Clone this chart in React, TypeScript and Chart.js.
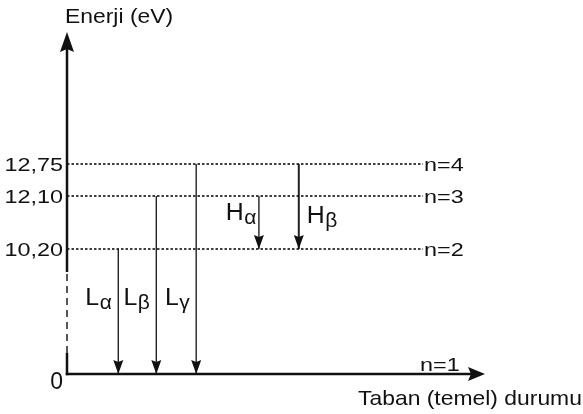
import React, { useEffect, useRef } from 'react';
import { Chart, registerables } from 'chart.js';

Chart.register(...registerables);

// ---------- data ----------
const levelN = [1, 2, 3, 4];
const levelEnergy = [0, 10.2, 12.1, 12.75];
const yTickLabels = ['0', '10,20', '12,10', '12,75'];
const levelLabels = ['n=1', 'n=2', 'n=3', 'n=4'];
// schematic (broken-axis) height at which each level is drawn, diagram units
const levelHeight = [0, 2.5, 3.56, 4.2];

const transitionSeries = ['L', 'L', 'L', 'H', 'H'];
const transitionSub = ['α', 'β', 'γ', 'α', 'β'];
const transitionFrom = [2, 3, 4, 3, 4];
const transitionTo = [1, 1, 1, 2, 2];
const transitionSlot = [1.35, 2.35, 3.4, 5.05, 6.1];

const yAxisTitle = 'Enerji (eV)';
const xAxisTitle = 'Taban (temel) durumu';

// ---------- layout ----------
const X_MAX = 11;
const Y_MAX = 6.84;
const LEVEL_LINE_END = 9.37;
const AXIS_BREAK = [0.42, 2.04];
const labelHeight = [1.38, 1.38, 1.38, 3.08, 3.02];
const labelSide = ['left', 'left', 'left', 'left', 'right'];

const FONT = '"Liberation Sans", Arial, Helvetica, sans-serif';
const INK = '#111';

// map an energy onto the broken schematic axis
function heightOf(E: number): number {
  for (let i = 1; i < levelEnergy.length; i++) {
    if (E <= levelEnergy[i]) {
      const t = (E - levelEnergy[i - 1]) / (levelEnergy[i] - levelEnergy[i - 1]);
      return levelHeight[i - 1] + t * (levelHeight[i] - levelHeight[i - 1]);
    }
  }
  return levelHeight[levelHeight.length - 1];
}
const levelY = (n: number) => heightOf(levelEnergy[levelN.indexOf(n)]);

function text(ctx: CanvasRenderingContext2D, s: string, x: number, y: number, size: number, sx: number, align: CanvasTextAlign) {
  ctx.save();
  ctx.translate(x, y);
  ctx.scale(sx, 1);
  ctx.font = `${size}px ${FONT}`;
  ctx.textAlign = align;
  ctx.textBaseline = 'alphabetic';
  ctx.fillStyle = INK;
  ctx.fillText(s, 0, 0);
  ctx.restore();
}

function arrowHead(ctx: CanvasRenderingContext2D, tx: number, ty: number, dx: number, dy: number, len: number, half: number, notch: number) {
  const bx = tx - dx * len, by = ty - dy * len;
  const nx = -dy, ny = dx;
  const cx = tx - dx * (len - notch), cy = ty - dy * (len - notch);
  ctx.beginPath();
  ctx.moveTo(tx, ty);
  ctx.lineTo(bx + nx * half, by + ny * half);
  ctx.lineTo(cx, cy);
  ctx.lineTo(bx - nx * half, by - ny * half);
  ctx.closePath();
  ctx.fillStyle = INK;
  ctx.fill();
}

const diagramPlugin = {
  id: 'diagram',
  afterDatasetsDraw(chart: any) {
    const { ctx, chartArea, scales } = chart;
    const xs = scales.x, ys = scales.y;
    const x0 = xs.getPixelForValue(0);
    const y0 = ys.getPixelForValue(0);
    ctx.save();
    ctx.strokeStyle = INK;
    ctx.lineCap = 'butt';

    // y axis (broken)
    const bTop = ys.getPixelForValue(AXIS_BREAK[1]);
    const bBot = ys.getPixelForValue(AXIS_BREAK[0]);
    ctx.lineWidth = 2.5;
    ctx.beginPath();
    ctx.moveTo(x0, chartArea.top + 15);
    ctx.lineTo(x0, bTop);
    ctx.moveTo(x0, bBot);
    ctx.lineTo(x0, y0 + 1.25);
    ctx.stroke();
    ctx.save();
    ctx.strokeStyle = '#555';
    ctx.lineWidth = 2;
    ctx.setLineDash([7, 5]);
    ctx.beginPath();
    ctx.moveTo(x0, bTop + 2);
    ctx.lineTo(x0, bBot);
    ctx.stroke();
    ctx.restore();
    arrowHead(ctx, x0, chartArea.top, 0, -1, 20, 7, 3);

    // x axis
    ctx.lineWidth = 2.5;
    ctx.beginPath();
    ctx.moveTo(x0 - 1.25, y0);
    ctx.lineTo(chartArea.right - 12, y0);
    ctx.stroke();
    arrowHead(ctx, chartArea.right, y0, 1, 0, 17, 7, 3);

    // transition arrowheads + labels
    transitionSlot.forEach((s, i) => {
      const px = xs.getPixelForValue(s);
      const py = ys.getPixelForValue(levelY(transitionTo[i]));
      arrowHead(ctx, px, py, 0, 1, 14, 5, 2);

      const mainSize = 23, mainSx = 1.08, subSize = 21;
      ctx.font = `${mainSize}px ${FONT}`;
      const mw = ctx.measureText(transitionSeries[i]).width * mainSx;
      ctx.font = `${subSize}px ${FONT}`;
      const sw = ctx.measureText(transitionSub[i]).width;
      const base = ys.getPixelForValue(labelHeight[i]);
      let left: number;
      if (labelSide[i] === 'left') left = px - (transitionSeries[i] === 'L' ? 7 : 3) - mw - sw;
      else left = px + 8;
      text(ctx, transitionSeries[i], left, base, mainSize, mainSx, 'left');
      text(ctx, transitionSub[i], left + mw + 0.5, base + 4, subSize, 1, 'left');
    });

    // y tick labels and level labels
    levelN.forEach((n, i) => {
      const py = ys.getPixelForValue(levelY(n));
      if (yTickLabels[i] === '0') {
        text(ctx, yTickLabels[i], x0 - 4, py + 15, 23, 1, 'right');
      } else {
        text(ctx, yTickLabels[i], x0 - 4, py + 6.5, 18, 1.3, 'right');
      }
      const lx = xs.getPixelForValue(LEVEL_LINE_END);
      if (n === 1) {
        text(ctx, levelLabels[i], lx - 3, py - 3, 18, 1.3, 'left');
      } else {
        text(ctx, levelLabels[i], lx + 1, py + 6.5, 18, 1.3, 'left');
      }
    });

    // axis titles
    text(ctx, yAxisTitle, x0 - 2, chartArea.top - 9, 21, 1.09, 'left');
    text(ctx, xAxisTitle, chartArea.right - 127, y0 + 31, 21, 1.09, 'left');
    ctx.restore();
  },
};

function buildDatasets() {
  const ds: any[] = [];
  levelN.forEach((n) => {
    if (n === 1) return;
    const h = levelY(n);
    ds.push({
      label: `n=${n}`,
      data: [{ x: 0, y: h }, { x: LEVEL_LINE_END, y: h }],
      showLine: true,
      borderColor: '#000',
      borderWidth: 1.3,
      borderDash: [2.5, 2],
      pointRadius: 0,
    });
  });
  transitionSlot.forEach((s, i) => {
    ds.push({
      label: transitionSeries[i] + transitionSub[i],
      data: [
        { x: s, y: levelY(transitionFrom[i]) },
        { x: s, y: levelY(transitionTo[i]) },
      ],
      showLine: true,
      borderColor: '#222',
      borderWidth: i === 4 ? 2 : 1.4,
      pointRadius: 0,
    });
  });
  return ds;
}

export default function App() {
  const ref = useRef<HTMLCanvasElement>(null);
  useEffect(() => {
    const canvas = ref.current!;
    const chart = new Chart(canvas, {
      type: 'scatter',
      data: { datasets: buildDatasets() },
      options: {
        responsive: false,
        animation: false,
        events: [],
        layout: { padding: { left: 67, right: 98, top: 32, bottom: 40 } },
        scales: {
          x: { type: 'linear', min: 0, max: X_MAX, display: false },
          y: { type: 'linear', min: 0, max: Y_MAX, display: false },
        },
        plugins: { legend: { display: false }, tooltip: { enabled: false } },
      },
      plugins: [diagramPlugin],
    } as any);
    return () => chart.destroy();
  }, []);
  return (
    <div style={{ position: 'fixed', left: 0, top: 0, width: 583, height: 414, background: '#fff' }}>
      <canvas ref={ref} width={583} height={414} style={{ display: 'block' }} />
    </div>
  );
}
